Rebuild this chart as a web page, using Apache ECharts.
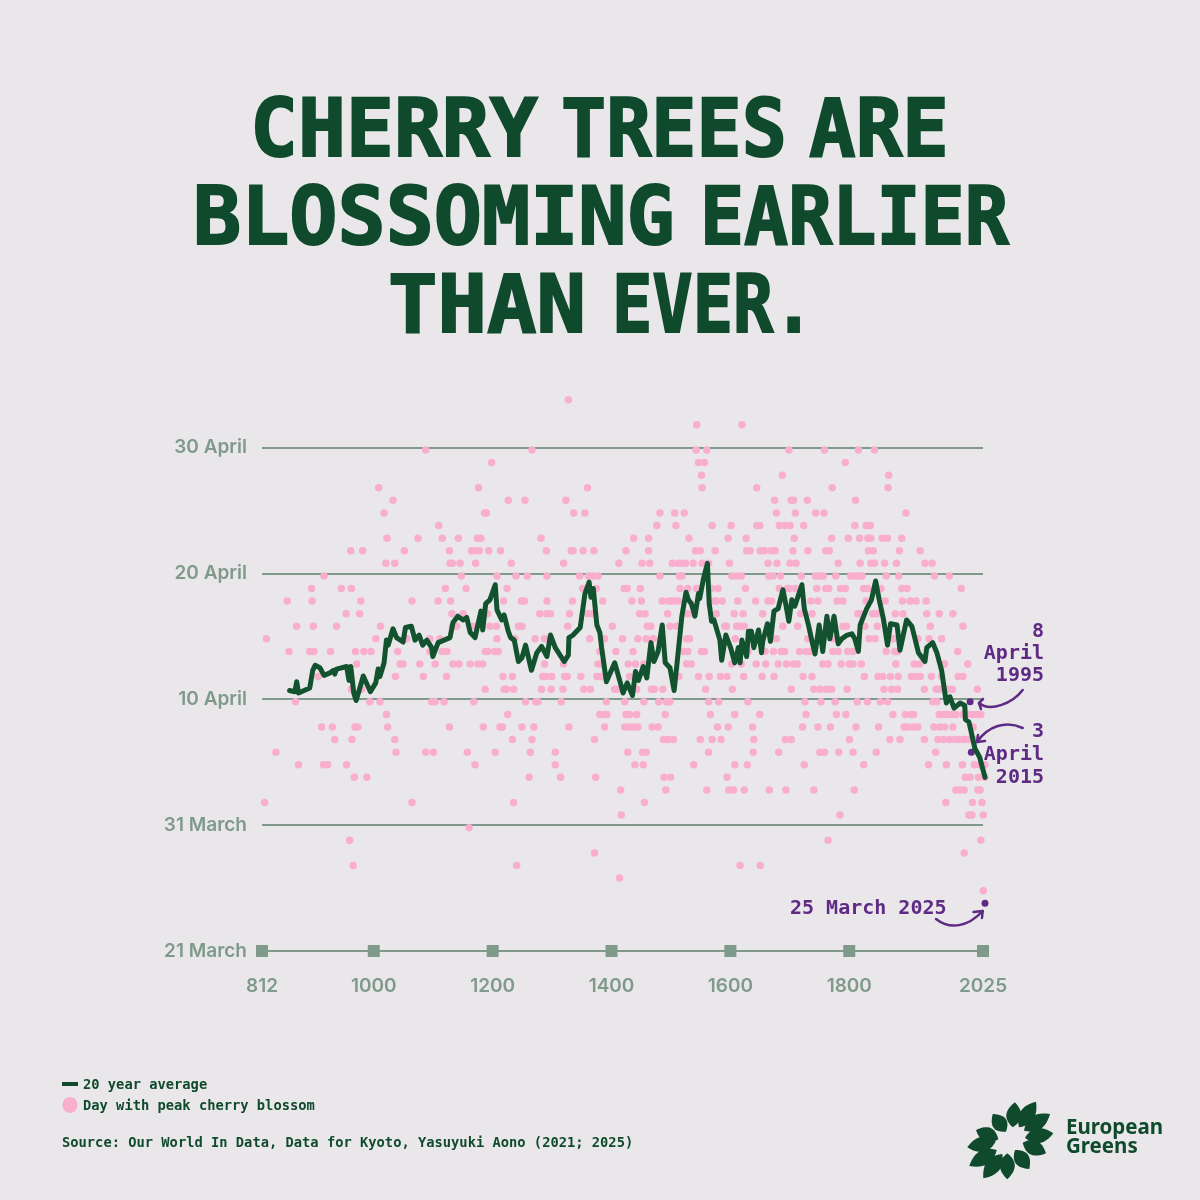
<!DOCTYPE html>
<html>
<head>
<meta charset="utf-8">
<style>
  html, body { margin: 0; background: #e9e7ea; }
  #chart { width: 1200px; height: 1200px; }
</style>
</head>
<body>
<div id="chart"></div>
<script src="https://cdn.jsdelivr.net/npm/echarts@6/dist/echarts.min.js"></script>
<script>
const GREEN = '#0f4a2c'
const LINE_GREEN = '#13522f'
const GREY = '#7f9a8b'
const PINK = '#f9aecd'
const PURPLE = '#5e2a84'
const MONO = '"DejaVu Sans Mono", "Liberation Mono", monospace'

const xTicks = [812, 1000, 1200, 1400, 1600, 1800, 2025]
const yTickLabels = ['21 March', '31 March', '10 April', '20 April', '30 April']
// word, left edge, right edge, middle of the line
const titleWords = [
  ['CHERRY', 252, 536, 135], ['TREES', 563, 785, 135], ['ARE', 811, 947, 135],
  ['BLOSSOMING', 195, 673, 223], ['EARLIER', 702, 1007, 223],
  ['THAN', 390, 584, 311], ['EVER.', 614, 812, 311]
]

// years with peak blossom, one list per day of the year (80 = 21 March, 120 = 30 April)
const d124 = [1324]
const d122 = [1540, 1616]
const d120 = [1084, 1263, 1539, 1557, 1695, 1755, 1812, 1839]
const d119 = [1195, 1543, 1553, 1790]
const d118 = [1548, 1684, 1863]
const d117 = [1005, 1173, 1356, 1549, 1641, 1768, 1862]
const d116 = [1029, 1223, 1251, 1320, 1671, 1699, 1703, 1726, 1807]
const d115 = [1014, 1183, 1186, 1333, 1352, 1478, 1503, 1519, 1674, 1706, 1740, 1754, 1892]
const d114 = [1106, 1473, 1505, 1566, 1598, 1641, 1646, 1679, 1688, 1697, 1720, 1806, 1825, 1832]
const d113 = [1019, 1071, 1112, 1139, 1171, 1177, 1278, 1434, 1459, 1527, 1593, 1623, 1704, 1767, 1795, 1814, 1828, 1833, 1852, 1861, 1885]
const d112 = [958, 978, 1048, 1124, 1161, 1167, 1174, 1190, 1210, 1287, 1329, 1332, 1349, 1367, 1421, 1459, 1538, 1546, 1571, 1624, 1630, 1647, 1654, 1665, 1672, 1702, 1727, 1757, 1763, 1829, 1837, 1881, 1916]
const d111 = [1017, 1032, 1125, 1129, 1142, 1168, 1228, 1316, 1409, 1448, 1461, 1499, 1509, 1514, 1521, 1534, 1549, 1560, 1595, 1660, 1675, 1697, 1707, 1778, 1815, 1833, 1839, 1856, 1876, 1924, 1936]
const d110 = [913, 1144, 1204, 1236, 1255, 1288, 1343, 1358, 1365, 1374, 1478, 1511, 1515, 1599, 1607, 1615, 1661, 1668, 1681, 1716, 1740, 1746, 1753, 1774, 1799, 1805, 1812, 1818, 1859, 1880, 1940, 1965]
const d109 = [892, 942, 959, 1117, 1152, 1221, 1348, 1371, 1418, 1423, 1445, 1512, 1525, 1540, 1565, 1576, 1622, 1679, 1693, 1696, 1706, 1742, 1757, 1762, 1782, 1790, 1821, 1828, 1850, 1885, 1894, 1985]
const d108 = [851, 893, 975, 1061, 1105, 1126, 1215, 1245, 1250, 1288, 1331, 1382, 1431, 1447, 1482, 1492, 1497, 1502, 1509, 1570, 1573, 1583, 1609, 1639, 1660, 1666, 1732, 1744, 1776, 1786, 1825, 1857, 1886, 1899, 1909, 1926]
const d107 = [950, 973, 1128, 1147, 1188, 1276, 1288, 1294, 1326, 1357, 1363, 1444, 1453, 1491, 1524, 1534, 1573, 1603, 1618, 1651, 1715, 1734, 1811, 1815, 1836, 1843, 1874, 1887, 1927, 1948, 1971]
const d106 = [867, 895, 934, 1008, 1129, 1136, 1164, 1192, 1203, 1240, 1246, 1323, 1398, 1457, 1463, 1495, 1506, 1587, 1590, 1607, 1613, 1620, 1685, 1710, 1786, 1792, 1823, 1844, 1933, 1988]
const d105 = [816, 1000, 1052, 1091, 1108, 1204, 1234, 1268, 1284, 1360, 1385, 1415, 1441, 1455, 1467, 1523, 1528, 1605, 1674, 1727, 1769, 1830, 1840, 1870, 1912, 1931, 1952]
const d104 = [854, 889, 896, 924, 966, 980, 992, 1037, 1091, 1112, 1120, 1184, 1188, 1200, 1206, 1377, 1404, 1433, 1517, 1525, 1548, 1553, 1626, 1655, 1669, 1682, 1688, 1713, 1724, 1730, 1769, 1778, 1794, 1803, 1859, 1873, 1878, 1979]
const d103 = [968, 1041, 1046, 1074, 1100, 1130, 1140, 1159, 1172, 1180, 1284, 1316, 1374, 1379, 1425, 1437, 1451, 1523, 1531, 1599, 1615, 1640, 1656, 1677, 1691, 1703, 1709, 1752, 1761, 1783, 1797, 1803, 1817, 1875, 1906, 1915, 1957, 1996]
const d102 = [903, 1033, 1080, 1119, 1214, 1230, 1281, 1286, 1296, 1318, 1322, 1345, 1372, 1379, 1427, 1510, 1543, 1561, 1580, 1591, 1619, 1650, 1670, 1719, 1734, 1822, 1845, 1853, 1866, 1879, 1901, 1909, 1916, 1935, 1952, 1980, 1988]
const d101 = [959, 976, 1184, 1216, 1220, 1232, 1279, 1295, 1315, 1350, 1361, 1402, 1407, 1439, 1464, 1469, 1483, 1555, 1600, 1699, 1737, 1747, 1758, 1767, 1793, 1855, 1868, 1878, 1923, 1943, 1948, 1962, 1970, 2012]
const d100 = [865, 990, 1007, 1094, 1100, 1115, 1165, 1252, 1269, 1273, 1312, 1388, 1419, 1451, 1476, 1489, 1495, 1560, 1577, 1626, 1722, 1749, 1773, 1810, 1827, 1849, 1861, 1937, 1944]
const d99 = [1018, 1222, 1377, 1385, 1389, 1421, 1427, 1439, 1487, 1563, 1604, 1646, 1724, 1775, 1791, 1870, 1891, 1901, 1905, 1948, 1955, 1962, 1970, 1976, 1988, 1996, 2004, 2012, 2018]
const d98 = [909, 927, 965, 970, 1020, 1124, 1181, 1209, 1213, 1246, 1266, 1325, 1385, 1419, 1427, 1434, 1441, 1465, 1475, 1575, 1593, 1634, 1718, 1744, 1765, 1808, 1846, 1889, 1895, 1904, 1912, 1939, 1949, 1957, 1971, 2005]
const d97 = [931, 960, 1032, 1230, 1263, 1368, 1484, 1492, 1501, 1546, 1566, 1581, 1636, 1689, 1699, 1797, 1865, 1882, 1923, 1946, 1955, 1965, 1974, 1981, 1990, 1998, 2010]
const d96 = [832, 1034, 1084, 1097, 1154, 1201, 1260, 1302, 1424, 1449, 1455, 1560, 1635, 1678, 1747, 1755, 1779, 1803, 1842, 1942]
const d95 = [870, 912, 919, 951, 1167, 1302, 1436, 1450, 1535, 1604, 1625, 1721, 1821, 1930, 1960, 1987, 2007, 2016, 2025]
const d94 = [964, 985, 1258, 1311, 1370, 1485, 1496, 1591, 1992, 2000, 2014, 2025]
const d93 = [1412, 1488, 1557, 1594, 1602, 1620, 1662, 1690, 1737, 1805, 1976, 1983, 1990, 2013, 2017]
const d92 = [813, 1061, 1232, 1452, 1959, 2004, 2020]
const d91 = [1413, 1781, 1998, 2003, 2022]
const d90 = [1157]
const d89 = [956, 1761, 2018]
const d88 = [1368, 1990]
const d87 = [962, 1237, 1613, 1647]
const d86 = [1410]
const d85 = [2022]

const blossomRows = [
  [124, d124], [122, d122], [120, d120], [119, d119], [118, d118], [117, d117], [116, d116],
  [115, d115], [114, d114], [113, d113], [112, d112], [111, d111], [110, d110], [109, d109],
  [108, d108], [107, d107], [106, d106], [105, d105], [104, d104], [103, d103], [102, d102],
  [101, d101], [100, d100], [99, d99], [98, d98], [97, d97], [96, d96], [95, d95], [94, d94],
  [93, d93], [92, d92], [91, d91], [90, d90], [89, d89], [88, d88], [87, d87], [86, d86], [85, d85]
]

const highlightYears = [2000, 2002, 2025]
const highlightDays = [100, 96, 84]

// 20 year average
const avgYears = [855, 864, 867, 870, 889, 894, 898, 906, 913, 923, 929, 931, 934, 951, 955, 958, 963, 967, 972, 979, 991, 1000, 1004, 1007, 1014, 1018, 1021, 1029, 1032, 1035, 1046, 1050, 1060, 1066, 1073, 1079, 1086, 1094, 1096, 1105, 1108, 1125, 1130, 1138, 1147, 1153, 1159, 1167, 1177, 1180, 1185, 1192, 1201, 1204, 1212, 1216, 1223, 1227, 1233, 1240, 1246, 1252, 1262, 1271, 1279, 1288, 1294, 1302, 1317, 1324, 1325, 1332, 1344, 1352, 1359, 1362, 1366, 1372, 1377, 1380, 1383, 1388, 1402, 1411, 1416, 1423, 1432, 1437, 1442, 1450, 1456, 1463, 1468, 1475, 1482, 1487, 1495, 1502, 1507, 1515, 1522, 1526, 1531, 1537, 1543, 1545, 1551, 1558, 1561, 1565, 1569, 1579, 1582, 1589, 1597, 1604, 1610, 1613, 1616, 1624, 1627, 1632, 1636, 1644,
  1649, 1651, 1659, 1664, 1670, 1677, 1685, 1690, 1695, 1700, 1705, 1717, 1721, 1728, 1733, 1739, 1746, 1752, 1759, 1764, 1771, 1778, 1784, 1793, 1801, 1806, 1812, 1815, 1826, 1834, 1841, 1847, 1854, 1861, 1866, 1877, 1882, 1893, 1902, 1913,
  1924, 1927, 1937, 1944, 1952, 1960, 1966, 1973, 1983, 1991, 1992, 1998, 2008, 2016, 2025]
const avgDays = [100.9, 100.8, 101.6, 100.7, 101.1, 102.5, 102.9, 102.7, 102.1, 102.3, 102.5, 102.2, 102.6, 102.8, 101.7, 102.8, 100.7, 100.1, 100.9, 102.05, 100.8, 101.5, 102.6, 102, 103.1, 104.9, 104.5, 105.8, 105.9, 105.1, 104.75, 105.9, 106, 104.9, 105.3, 104.5, 104.9, 104.3, 103.6, 104.7, 104.7, 105.1, 106.3, 106.8, 106.5, 106.7, 105.5, 105.1, 107.2, 105.7, 107.8, 108.1, 109.3, 107.3, 106.5, 106.9, 105.6, 105.1, 104.9, 103.2, 103.5, 104.5, 102.5, 103.9, 104.4, 103.6, 105.3, 104.3, 103.2, 103.7, 105.1, 105.3, 105.9, 108.6, 109.5, 108.3, 109, 106.1, 105.5, 104.3, 103.3, 101.6, 103.1, 101.6, 100.7, 101.5, 100.5, 102.4, 101.7, 102.8, 101.9, 104.7, 103.2, 104, 106.1, 103.1, 102.7, 100.9, 103.1, 106.8, 108.7, 108.1, 107.8, 106.8, 108.6, 108.2, 109.7, 111, 107.8, 106.4, 106.5, 104.9, 103.3, 105.3, 104.3, 103.1, 104.3, 103.1, 104.9, 103.6, 105.6, 105.6, 104.3, 105.7,
  103.9, 104.8, 106.2, 104.8, 107.2, 107.4, 108.9, 107.7, 106.4, 108.1, 107.6, 109.3, 107.4, 106.1, 105, 103.8, 106.1, 104, 106.8, 105, 106.8, 104.6, 105, 105.3, 105.4, 105, 104, 106.1, 107.4, 108.1, 109.6, 108.1, 106.6, 104.5, 106.2, 106.1, 104.1, 106.5, 106, 103.9,
  103.2, 104.3, 104.7, 103.9, 102.5, 99.9, 100.4, 99.5, 99.9, 99.7, 98.6, 98.4, 96.3, 95.6, 94]

const logoBases = [[1012.7, 1127.3], [1019, 1127.3], [1024, 1130.7], [1025, 1137.7], [1022.7, 1142.7], [1015, 1150], [1007.3, 1153.3], [1002.3, 1154], [996.7, 1150], [995.7, 1141.7], [998.3, 1139.3], [1006, 1131.7]]
const logoTips = [[1015, 1102.3], [1036, 1101.7], [1050, 1114], [1053.3, 1133.3], [1046, 1153.3], [1029.3, 1169], [1007.3, 1179.3], [983.3, 1178.3], [969.3, 1166], [967.3, 1147.3], [976, 1130], [992.7, 1114]]

const blossomData = []
blossomRows.forEach(([day, years]) => {
  years.forEach(year => blossomData.push([year, day]))
})

// leaf outline as points along two quadratic curves
function leafPoints (base, tip) {
  const dx = tip[0] - base[0]
  const dy = tip[1] - base[1]
  const len = Math.sqrt(dx * dx + dy * dy)
  const ux = dx / len
  const uy = dy / len
  const mx = base[0] + dx * 0.45
  const my = base[1] + dy * 0.45
  const pts = []
  ;[15, -15].forEach(w => {
    const qx = mx - uy * w
    const qy = my + ux * w
    for (let i = 0; i <= 12; i++) {
      const t = w > 0 ? i / 12 : 1 - i / 12
      const s = 1 - t
      pts.push([s * s * base[0] + 2 * s * t * qx + t * t * tip[0], s * s * base[1] + 2 * s * t * qy + t * t * tip[1]])
    }
  })
  return pts
}

function monoText (text, x, y, size, color, align, weight) {
  return {
    type: 'text', x, y, z: 20,
    style: {
      text, fill: color, align: align || 'left', verticalAlign: 'middle',
      font: `${weight || 'bold'} ${size}px ${MONO}`
    }
  }
}

function arrow (x1, y1, cpx1, cpy1, cpx2, cpy2, x2, y2, head) {
  const stroke = { fill: 'none', stroke: PURPLE, lineWidth: 2.5, lineCap: 'round', lineJoin: 'round' }
  return [
    { type: 'bezierCurve', z: 20, shape: { x1, y1, cpx1, cpy1, cpx2, cpy2, x2, y2 }, style: stroke },
    { type: 'polyline', z: 20, shape: { points: [head[0], [x2, y2], head[1]] }, style: stroke }
  ]
}

const graphics = [
  // title, each word squeezed to its width
  ...titleWords.map(([text, left, right, y]) => ({
    type: 'text', x: left - 2, y, scaleX: (right - left + 4) / (text.length * 48.8), z: 20,
    style: {
      text, fill: GREEN, verticalAlign: 'middle',
      font: `bold 81px ${MONO}`, stroke: GREEN, lineWidth: 2
    }
  })),
  // annotations
  monoText('8', 1044, 631.5, 20, PURPLE, 'right'),
  monoText('April', 1044, 653.5, 20, PURPLE, 'right'),
  monoText('1995', 1044, 675.5, 20, PURPLE, 'right'),
  monoText('3', 1044, 731.5, 20, PURPLE, 'right'),
  monoText('April', 1044, 754.5, 20, PURPLE, 'right'),
  monoText('2015', 1044, 777.5, 20, PURPLE, 'right'),
  monoText('25 March 2025', 790, 908.5, 20, PURPLE, 'left'),
  ...arrow(1022.7, 690, 1012, 704, 990, 712, 979, 703, [[983, 699], [981, 709]]),
  ...arrow(1022.7, 728, 1006, 720, 988, 726, 977, 742, [[978, 735], [985, 741]]),
  ...arrow(936, 919, 950, 930, 968, 927, 982.7, 911, [[973.5, 912], [982, 918]]),
  // legend
  { type: 'rect', z: 20, shape: { x: 62, y: 1082, width: 16, height: 4 }, style: { fill: GREEN } },
  { type: 'ellipse', z: 20, shape: { cx: 70, cy: 1105, rx: 7.5, ry: 8 }, style: { fill: PINK } },
  monoText('20 year average', 83, 1085, 13.75, GREEN),
  monoText('Day with peak cherry blossom', 83, 1106.5, 13.75, GREEN),
  monoText('Source: Our World In Data, Data for Kyoto, Yasuyuki Aono (2021; 2025)', 62, 1143, 13.75, GREEN),
  // logo
  ...logoTips.map((tip, i) => ({
    type: 'polygon', z: 20, shape: { points: leafPoints(logoBases[i], tip) }, style: { fill: GREEN }
  })),
  {
    type: 'text', x: 1066, y: 1128, z: 20,
    style: { text: 'European', fill: GREEN, verticalAlign: 'middle', font: 'bold 20.5px "Noto Sans"' }
  },
  {
    type: 'text', x: 1066, y: 1147, z: 20,
    style: { text: 'Greens', fill: GREEN, verticalAlign: 'middle', font: 'bold 20.5px "Noto Sans"' }
  }
]

const labelStyle = { color: GREY, fontFamily: 'Inter', fontWeight: 600, fontSize: 19 }

const option = {
  backgroundColor: '#e9e7ea',
  animation: false,
  grid: [
    { left: 262, right: 217, top: 321.5, bottom: 249 },
    // the dots and the line sit about 2 px off the drawn axes
    { left: 264, right: 215, top: 324.1, bottom: 246.4 }
  ],
  xAxis: [
    {
      type: 'value', gridIndex: 0, min: 812, max: 2025,
      axisLine: { show: true, onZero: false, lineStyle: { color: GREY, width: 2 } },
      axisTick: { show: false },
      splitLine: { show: false },
      axisLabel: { ...labelStyle, customValues: xTicks, margin: 26, formatter: v => String(v) }
    },
    { type: 'value', gridIndex: 1, min: 812, max: 2025, show: false, splitLine: { show: false } }
  ],
  yAxis: [
    {
      type: 'value', gridIndex: 0, min: 80, max: 130, interval: 10,
      axisLine: { show: false },
      axisTick: { show: false },
      splitLine: { show: true, showMaxLine: false, lineStyle: { color: GREY, width: 2 } },
      axisLabel: { ...labelStyle, margin: 15, formatter: v => yTickLabels[(v - 80) / 10] || '' }
    },
    { type: 'value', gridIndex: 1, min: 80, max: 130, show: false, splitLine: { show: false } }
  ],
  series: [
    {
      name: 'Day with peak cherry blossom', type: 'scatter', xAxisIndex: 1, yAxisIndex: 1, z: 3,
      symbol: 'circle', symbolSize: 7.5, itemStyle: { color: PINK, opacity: 1 },
      silent: true, clip: false, large: false,
      data: blossomData
    },
    {
      name: 'x ticks', type: 'scatter', xAxisIndex: 0, yAxisIndex: 0, z: 4,
      symbol: 'rect', symbolSize: 12, itemStyle: { color: GREY, opacity: 1 }, silent: true, clip: false,
      data: xTicks.map(year => [year, 80])
    },
    {
      name: 'highlights', type: 'scatter', xAxisIndex: 1, yAxisIndex: 1, z: 5,
      symbol: 'circle', symbolSize: 7, itemStyle: { color: PURPLE, opacity: 1 }, silent: true, clip: false,
      data: highlightYears.map((year, i) => [year, highlightDays[i]])
    },
    {
      name: '20 year average', type: 'line', xAxisIndex: 1, yAxisIndex: 1, z: 6,
      showSymbol: false, clip: false, silent: true,
      lineStyle: { color: LINE_GREEN, width: 5, join: 'round', cap: 'round' },
      data: avgYears.map((year, i) => [year, avgDays[i]])
    }
  ],
  graphic: { elements: graphics }
}

const chart = echarts.init(document.getElementById('chart'))
chart.setOption(option)
</script>
</body>
</html>
